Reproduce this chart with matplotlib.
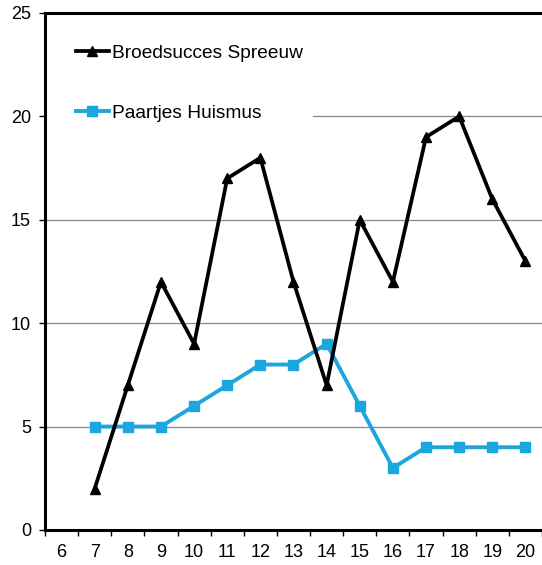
import matplotlib.pyplot as plt
import numpy as np

plt.rcParams['font.family'] = ['Liberation Sans', 'DejaVu Sans']
plt.rcParams['font.size'] = 13

years = [7, 8, 9, 10, 11, 12, 13, 14, 15, 16, 17, 18, 19, 20]
spreeuw = [2, 7, 12, 9, 17, 18, 12, 7, 15, 12, 19, 20, 16, 13]
huismus = [5, 5, 5, 6, 7, 8, 8, 9, 6, 3, 4, 4, 4, 4]
xticks = list(range(6, 21))
yticks = [0, 5, 10, 15, 20, 25]

fig = plt.figure(figsize=(5.42, 5.65), dpi=100)
ax = fig.add_axes([0.083, 0.062, 0.917, 0.915])

# gridlines (the one at 20 is hidden behind the legend on the left)
for yv in [5, 10, 15]:
    ax.axhline(yv, color='#888888', lw=0.9, zorder=1)
ax.axhline(20, xmin=0.54, color='#888888', lw=0.9, zorder=1)

ax.plot(years, spreeuw, color='black', lw=2.7, marker='^', ms=6.5,
        label='Broedsucces Spreeuw', zorder=3)
ax.plot(years, huismus, color='#1ba6de', lw=2.8, marker='s', ms=7,
        label='Paartjes Huismus', zorder=2)

ax.set_xlim(5.5, 20.36)
ax.set_ylim(0, 25)
ax.set_xticks(xticks)
ax.set_xticks(np.arange(5.5, 20.6, 1), minor=True)
ax.tick_params(axis='x', which='major', length=0, pad=10)
ax.tick_params(axis='x', which='minor', length=4, width=1, direction='out')
ax.set_yticks(yticks)
ax.tick_params(axis='y', length=4, width=1, direction='out', pad=6)

for side in ['left', 'bottom', 'top']:
    ax.spines[side].set_linewidth(2.2)
ax.spines['right'].set_visible(False)

ax.legend(loc='upper left', bbox_to_anchor=(0.028, 0.972), frameon=False,
          handlelength=1.7, handletextpad=0.15, labelspacing=2.2,
          fontsize=13.8)

fig.savefig('out.png', dpi=100)
